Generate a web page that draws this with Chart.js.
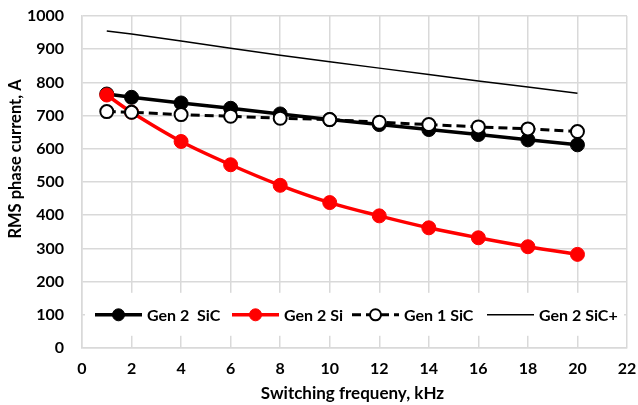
<!DOCTYPE html>
<html>
<head>
<meta charset="utf-8">
<script src="https://cdn.jsdelivr.net/npm/chart.js@4.4.1/dist/chart.umd.min.js"></script>
<style>
  html, body { margin: 0; padding: 0; background: #fff; }
  #wrap { width: 638px; height: 405px; }
</style>
</head>
<body>
<div id="wrap"><canvas id="grafico" width="638" height="405"></canvas></div>
<script>
// Datos
const frecuencias = [1, 2, 4, 6, 8, 10, 12, 14, 16, 18, 20];
const gen2SiC = [765, 755, 738, 722, 705, 688, 673, 658, 643, 627, 612];
const gen2Si = [762, 710, 622, 552, 490, 438, 398, 362, 332, 305, 282];
const gen1SiC = [712, 710, 703, 698, 692, 688, 680, 673, 666, 660, 652];
const gen2SiCPlus = [955, 946, 925, 903, 882, 862, 843, 824, 804, 786, 767];
const nombres = ['Gen 2  SiC', 'Gen 2 Si', 'Gen 1 SiC', 'Gen 2 SiC+'];
const tituloX = 'Switching frequeny, kHz';
const tituloY = 'RMS phase current, A';

const fuente = 'Lato, "Liberation Sans", sans-serif';

function puntos(valores) {
    return frecuencias.map((f, i) => ({ x: f, y: valores[i] }));
}

// Leyenda dentro del area del grafico, con fondo blanco
const inicioLeyenda = [95, 232, 352, 487];
const leyendaInterna = {
    id: 'leyendaInterna',
    beforeDatasetsDraw(chart) {
        const ctx = chart.ctx;
        const area = chart.chartArea;
        const yCentro = chart.scales.y.getPixelForValue(100);
        ctx.save();
        ctx.fillStyle = '#fff';
        ctx.fillRect(area.left + 3, yCentro - 22, area.right - area.left - 6, 43);
        ctx.font = 'bold 16px ' + fuente;
        ctx.textBaseline = 'middle';
        const largoLinea = 47;
        chart.data.datasets.forEach((ds, i) => {
            const x = inicioLeyenda[i];
            ctx.strokeStyle = ds.borderColor;
            ctx.lineWidth = ds.borderWidth;
            ctx.setLineDash(ds.borderDash || []);
            ctx.beginPath();
            ctx.moveTo(x, yCentro);
            ctx.lineTo(x + largoLinea, yCentro);
            ctx.stroke();
            ctx.setLineDash([]);
            if (ds.pointRadius > 0) {
                ctx.beginPath();
                ctx.arc(x + largoLinea / 2, yCentro, ds.pointRadius - 1, 0, Math.PI * 2);
                ctx.fillStyle = ds.pointBackgroundColor;
                ctx.fill();
                ctx.lineWidth = ds.pointBorderWidth;
                ctx.strokeStyle = ds.pointBorderColor;
                ctx.stroke();
            }
            ctx.fillStyle = '#000';
            ctx.fillText(ds.label, x + largoLinea + 5, yCentro + 1);
        });
        ctx.restore();
    }
};

// Titulos de los ejes, dibujados a mano para ubicarlos como en el original
const titulosEjes = {
    id: 'titulosEjes',
    afterDraw(chart) {
        const ctx = chart.ctx;
        const area = chart.chartArea;
        ctx.save();
        ctx.fillStyle = '#000';
        ctx.textAlign = 'center';
        ctx.textBaseline = 'middle';
        ctx.font = 'bold 17px ' + fuente;
        ctx.fillText(tituloX, (area.left + area.right) / 2 - 2, 394);
        ctx.translate(16, 159);
        ctx.rotate(-Math.PI / 2);
        ctx.font = 'bold 16.5px ' + fuente;
        ctx.fillText(tituloY, 0, 0);
        ctx.restore();
    }
};

const ctx = document.getElementById('grafico').getContext('2d');
const miGrafico = new Chart(ctx, {
    type: 'line',
    data: {
        datasets: [
            {
                label: nombres[0],
                data: puntos(gen2SiC),
                borderColor: '#000',
                borderWidth: 3.5,
                pointRadius: 7,
                pointBackgroundColor: '#000',
                pointBorderColor: '#000',
                pointBorderWidth: 1,
                order: 4
            },
            {
                label: nombres[1],
                data: puntos(gen2Si),
                borderColor: '#ff0000',
                borderWidth: 3.5,
                pointRadius: 7,
                pointBackgroundColor: '#ff0000',
                pointBorderColor: '#ff0000',
                pointBorderWidth: 1,
                tension: 0.35,
                order: 3
            },
            {
                label: nombres[2],
                data: puntos(gen1SiC),
                borderColor: '#000',
                borderWidth: 3,
                borderDash: [9, 5],
                pointRadius: 6.5,
                pointBackgroundColor: '#fff',
                pointBorderColor: '#000',
                pointBorderWidth: 2,
                order: 2
            },
            {
                label: nombres[3],
                data: puntos(gen2SiCPlus),
                borderColor: '#000',
                borderWidth: 1.5,
                pointRadius: 0,
                pointBackgroundColor: '#000',
                pointBorderColor: '#000',
                pointBorderWidth: 0,
                order: 1
            }
        ]
    },
    options: {
        responsive: false,
        animation: false,
        devicePixelRatio: 1,
        layout: { autoPadding: false, padding: { top: 16, right: 11, left: 0, bottom: 0 } },
        plugins: {
            legend: { display: false },
            tooltip: { enabled: false }
        },
        scales: {
            x: {
                type: 'linear',
                min: 0,
                max: 22,
                afterFit: (escala) => { escala.height = 57; escala.paddingLeft = 0; escala.paddingRight = 0; },
                ticks: { stepSize: 2, color: '#000', font: { family: fuente, size: 16, weight: 'bold' }, padding: 11 },
                grid: { color: '#d9d9d9', lineWidth: 1.5, drawTicks: false },
                border: { color: '#d9d9d9', width: 1.5 }
            },
            y: {
                min: 0,
                max: 1000,
                afterFit: (escala) => { escala.width = 82; escala.paddingTop = 0; escala.paddingBottom = 0; },
                ticks: { stepSize: 100, color: '#000', font: { family: fuente, size: 16, weight: 'bold' }, padding: 18, callback: (v) => String(v) },
                grid: { color: '#d9d9d9', lineWidth: 1.5, drawTicks: false },
                border: { color: '#d9d9d9', width: 1.5 }
            }
        }
    },
    plugins: [leyendaInterna, titulosEjes]
});
</script>
</body>
</html>
